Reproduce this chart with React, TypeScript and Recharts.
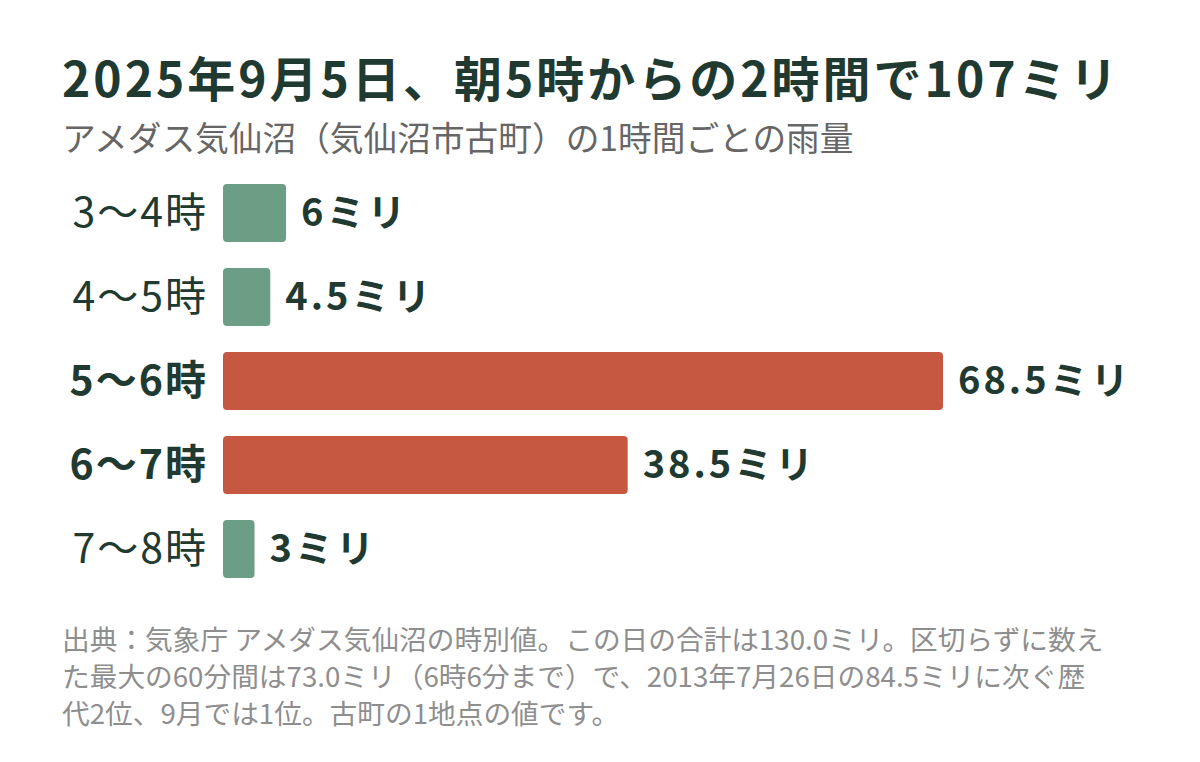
import { BarChart, Bar, XAxis, YAxis, Cell, LabelList } from "recharts";

const hours = ["3〜4時", "4〜5時", "5〜6時", "6〜7時", "7〜8時"];
const rainMm = [6, 4.5, 68.5, 38.5, 3];
const highlighted = ["5〜6時", "6〜7時"];

const title = "2025年9月5日、朝5時からの2時間で107ミリ";
const subtitle = "アメダス気仙沼（気仙沼市古町）の1時間ごとの雨量";
const noteLines = [
  "出典：気象庁 アメダス気仙沼の時別値。この日の合計は130.0ミリ。区切らずに数え",
  "た最大の60分間は73.0ミリ（6時6分まで）で、2013年7月26日の84.5ミリに次ぐ歴",
  "代2位、9月では1位。古町の1地点の値です。",
];

const data = hours.map((hour, i) => ({ hour, mm: rainMm[i] }));

const FONT = '"Noto Sans CJK JP", "Noto Sans", sans-serif';
const DARK = "#213a31";
const GREEN = "#6c9d85";
const RED = "#c65841";

function HourTick(props: any) {
  const { x, y, payload } = props;
  const bold = highlighted.includes(payload.value);
  return (
    <text
      x={x}
      y={y}
      dy={14}
      textAnchor="end"
      fontFamily={FONT}
      fontSize={41}
      fontWeight={bold ? 700 : 400}
      letterSpacing={2}
      fill={DARK}
    >
      {payload.value}
    </text>
  );
}

function ValueLabel(props: any) {
  const { x, y, width, height, value } = props;
  return (
    <text
      x={x + width + 15}
      y={y + height / 2}
      dy={13}
      fontFamily={FONT}
      fontSize={38}
      fontWeight={700}
      letterSpacing={3}
      fill={DARK}
    >
      {value}ミリ
    </text>
  );
}

export default function App() {
  return (
    <div
      style={{
        position: "absolute",
        left: 0,
        top: 0,
        width: 1200,
        height: 762,
        background: "#fff",
        fontFamily: FONT,
      }}
    >
      <div
        style={{
          position: "absolute",
          left: 62,
          top: 43,
          fontSize: 48,
          fontWeight: 700,
          color: DARK,
          whiteSpace: "nowrap",
          letterSpacing: 3,
          lineHeight: "66px",
        }}
      >
        {title}
      </div>
      <div
        style={{
          position: "absolute",
          left: 62,
          top: 114,
          fontSize: 33.7,
          fontWeight: 400,
          color: "#666",
          whiteSpace: "nowrap",
          lineHeight: "46px",
        }}
      >
        {subtitle}
      </div>
      <div style={{ position: "absolute", left: 0, top: 171 }}>
        <BarChart
          width={1200}
          height={420}
          data={data}
          layout="vertical"
          margin={{ top: 0, right: 31, bottom: 0, left: 0 }}
          barCategoryGap={13}
        >
          <XAxis type="number" domain={[0, 90]} hide />
          <YAxis
            type="category"
            dataKey="hour"
            width={223}
            axisLine={false}
            tickLine={false}
            tickMargin={9}
            tick={<HourTick />}
          />
          <Bar dataKey="mm" radius={4} isAnimationActive={false} minPointSize={4}>
            {data.map((d) => (
              <Cell key={d.hour} fill={highlighted.includes(d.hour) ? RED : GREEN} />
            ))}
            <LabelList dataKey="mm" content={<ValueLabel />} />
          </Bar>
        </BarChart>
      </div>
      <div
        style={{
          position: "absolute",
          left: 62,
          top: 620,
          fontSize: 27.7,
          color: "#8e8e8e",
          lineHeight: "37px",
          whiteSpace: "nowrap",
        }}
      >
        {noteLines.map((line) => (
          <div key={line}>{line}</div>
        ))}
      </div>
    </div>
  );
}
